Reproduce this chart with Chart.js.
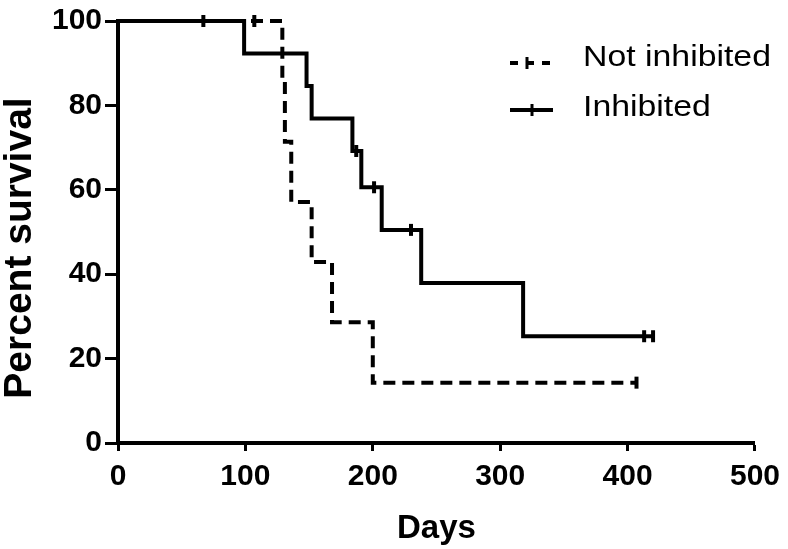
<!DOCTYPE html>
<html>
<head>
<meta charset="utf-8">
<script src="https://cdn.jsdelivr.net/npm/chart.js@4.4.1/dist/chart.umd.min.js"></script>
<style>
  html, body { margin: 0; padding: 0; background: #fff; }
  #wrap { width: 788px; height: 549px; }
</style>
</head>
<body>
<div id="wrap"><canvas id="survivalChart"></canvas></div>
<script>
// Kaplan-Meier steps (day of drop, survival after drop), last point = end of follow-up
const notInhDays = [0, 129, 131, 136, 152, 168, 200, 407];
const notInhSurvival = [100, 85.7, 71.4, 57.1, 42.9, 28.6, 14.3, 14.3];
const notInhCensorDays = [67, 107, 407];
const notInhCensorSurvival = [100, 100, 14.3];

const inhDays = [0, 99, 148, 152, 184, 191, 207, 238, 318, 420];
const inhSurvival = [100, 92.3, 84.6, 76.9, 69.2, 60.6, 50.5, 37.9, 25.3, 25.3];
const inhCensorDays = [187, 201, 230, 413, 420];
const inhCensorSurvival = [69.2, 60.6, 50.5, 25.3, 25.3];

const xTicks = [0, 100, 200, 300, 400, 500];
const yTicks = [0, 20, 40, 60, 80, 100];
const legendLabels = ['Not inhibited', 'Inhibited'];
const yTitle = 'Percent survival';

const FONT = '"Liberation Sans", Arial, sans-serif';

function toPoints(xs, ys) {
  return xs.map((x, i) => ({ x: x, y: ys[i] }));
}

// custom legend + y title (the original title sits a bit below the axis centre)
const kmLegend = {
  id: 'kmLegend',
  afterDraw(chart) {
    const ctx = chart.ctx;
    ctx.save();
    ctx.strokeStyle = '#000';
    ctx.fillStyle = '#000';
    ctx.lineWidth = 4;

    // Not inhibited symbol
    ctx.setLineDash([8, 8]);
    ctx.beginPath();
    ctx.moveTo(510, 63);
    ctx.lineTo(558, 63);
    ctx.stroke();
    ctx.setLineDash([]);
    ctx.lineWidth = 3;
    ctx.beginPath();
    ctx.moveTo(527, 57);
    ctx.lineTo(527, 69);
    ctx.stroke();

    // Inhibited symbol
    ctx.lineWidth = 4;
    ctx.beginPath();
    ctx.moveTo(510, 110);
    ctx.lineTo(553, 110);
    ctx.stroke();
    ctx.lineWidth = 3;
    ctx.beginPath();
    ctx.moveTo(532, 104);
    ctx.lineTo(532, 116);
    ctx.stroke();

    ctx.save();
    ctx.font = '29px ' + FONT;
    ctx.textAlign = 'left';
    ctx.textBaseline = 'alphabetic';
    const sx = 1.166;
    ctx.scale(sx, 1);
    ctx.fillText(legendLabels[0], 583 / sx, 66);
    ctx.fillText(legendLabels[1], 583 / sx, 116);
    ctx.restore();

    ctx.translate(20, 248);
    ctx.rotate(-Math.PI / 2);
    ctx.font = 'bold 39px ' + FONT;
    ctx.textAlign = 'center';
    ctx.textBaseline = 'middle';
    ctx.fillText(yTitle, 0, 0);
    ctx.restore();
  }
};

const ctx = document.getElementById('survivalChart').getContext('2d');
const survivalChart = new Chart(ctx, {
  type: 'line',
  data: {
    datasets: [{
      label: legendLabels[0],
      data: toPoints(notInhDays, notInhSurvival),
      stepped: 'before',
      borderColor: '#000',
      borderWidth: 4,
      borderDash: [12, 7],
      pointRadius: 0,
      fill: false,
      clip: false
    }, {
      label: legendLabels[1],
      data: toPoints(inhDays, inhSurvival),
      stepped: 'before',
      borderColor: '#000',
      borderWidth: 4,
      pointRadius: 0,
      fill: false,
      clip: false
    }, {
      type: 'scatter',
      label: 'censored (not inhibited)',
      data: toPoints(notInhCensorDays, notInhCensorSurvival),
      pointStyle: 'line',
      rotation: 90,
      pointRadius: 6,
      borderColor: '#000',
      borderWidth: 4,
      showLine: false,
      clip: false
    }, {
      type: 'scatter',
      label: 'censored (inhibited)',
      data: toPoints(inhCensorDays, inhCensorSurvival),
      pointStyle: 'line',
      rotation: 90,
      pointRadius: 6,
      borderColor: '#000',
      borderWidth: 4,
      showLine: false,
      clip: false
    }]
  },
  options: {
    responsive: true,
    maintainAspectRatio: false,
    animation: false,
    layout: { padding: { top: 15, right: 29, left: 0, bottom: 0 } },
    plugins: {
      legend: { display: false },
      tooltip: { enabled: false }
    },
    scales: {
      x: {
        type: 'linear',
        min: 0,
        max: 500,
        afterBuildTicks: (scale) => { scale.ticks = xTicks.map(v => ({ value: v })); },
        afterFit: (scale) => { scale.height = 106; },
        ticks: {
          color: '#000',
          padding: 8,
          font: { family: FONT, size: 30, weight: 'bold' }
        },
        grid: {
          drawOnChartArea: false,
          drawTicks: true,
          tickLength: 8,
          tickWidth: 3,
          tickColor: '#000'
        },
        border: { display: true, color: '#000', width: 4 },
        title: {
          display: true,
          text: 'Days',
          color: '#000',
          padding: { top: 4, bottom: 0 },
          font: { family: FONT, size: 33, weight: 'bold' }
        }
      },
      y: {
        min: 0,
        max: 100,
        afterBuildTicks: (scale) => { scale.ticks = yTicks.map(v => ({ value: v })); },
        afterFit: (scale) => { scale.width = 118; },
        ticks: {
          color: '#000',
          padding: 3,
          font: { family: FONT, size: 30, weight: 'bold' }
        },
        grid: {
          drawOnChartArea: false,
          drawTicks: true,
          tickLength: 13,
          tickWidth: 3,
          tickColor: '#000'
        },
        border: { display: true, color: '#000', width: 4 },
        title: { display: false }
      }
    }
  },
  plugins: [kmLegend]
});
</script>
</body>
</html>
